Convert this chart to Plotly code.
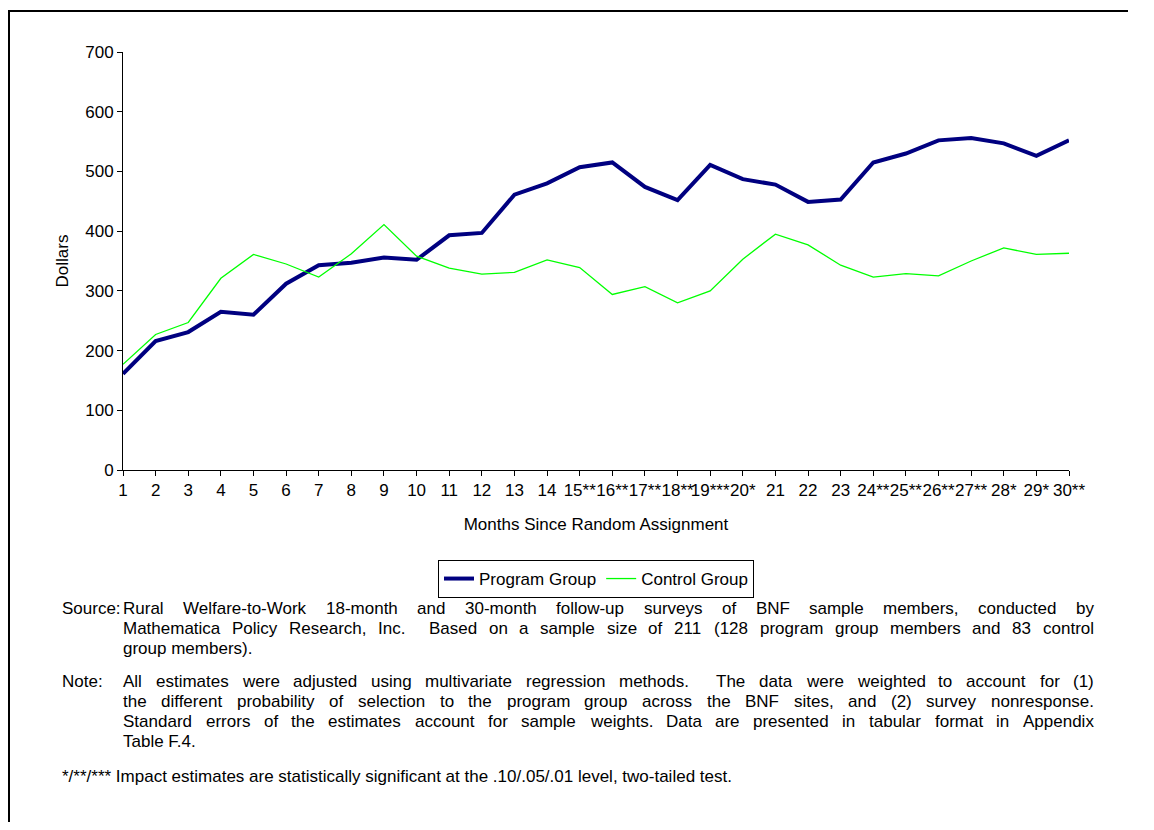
import plotly.graph_objects as go

months = list(range(1, 31))
month_labels = ["1", "2", "3", "4", "5", "6", "7", "8", "9", "10", "11", "12", "13", "14",
                "15**", "16**", "17**", "18**", "19***", "20*", "21", "22", "23", "24**",
                "25**", "26**", "27**", "28*", "29*", "30**"]
program_group = [161, 216, 231, 265, 260, 312, 343, 347, 356, 352, 393, 397, 461, 480, 507,
                 515, 474, 452, 511, 487, 478, 449, 453, 515, 530, 552, 556, 547, 526, 552]
control_group = [177, 227, 247, 321, 361, 345, 323, 362, 411, 358, 338, 328, 331, 352, 339,
                 294, 307, 280, 300, 353, 395, 377, 343, 323, 329, 325, 350, 372, 361, 363]

source_lines = [
    "Rural Welfare-to-Work 18-month and 30-month follow-up surveys of BNF sample members, conducted by",
    "Mathematica Policy Research, Inc.  Based on a sample size of 211 (128 program group members and 83 control",
    "group members).",
]
note_lines = [
    "All estimates were adjusted using multivariate regression methods.  The data were weighted to account for (1)",
    "the different probability of selection to the program group across the BNF sites, and (2) survey nonresponse.",
    "Standard errors of the estimates account for sample weights. Data are presented in tabular format in Appendix",
    "Table F.4.",
]
footnote = "*/**/*** Impact estimates are statistically significant at the .10/.05/.01 level, two-tailed test."

FONT = "Liberation Sans, Arial, sans-serif"
FS = 17
NOTE_FS = 17
# page body has an 8px margin; work in screen coordinates and convert
OFF = 8
W, H = 1120, 814
SL, SR, ST, SB = 123, 1069, 52, 470  # plot area in screen px
L, R, T, B = SL - OFF, (W + OFF) - SR, ST - OFF, (H + OFF) - SB
PW, PH = SR - SL, SB - ST


def px(x):
    return (x - SL) / PW


def py(y):
    return (SB - y) / PH


# Arial / Liberation Sans advance widths (1/1000 em) for text layout of justified lines
_W = {" ": 278, "(": 333, ")": 333, ",": 278, "-": 333, ".": 278, "/": 278, "*": 389, ":": 278,
      "A": 667, "B": 667, "D": 722, "F": 611, "I": 278, "M": 833, "N": 722, "P": 667, "R": 722,
      "S": 667, "T": 611, "W": 944,
      "a": 556, "b": 556, "c": 500, "d": 556, "e": 556, "f": 278, "g": 556, "h": 556, "i": 222,
      "j": 222, "k": 500, "l": 222, "m": 833, "n": 556, "o": 556, "p": 556, "q": 556, "r": 333,
      "s": 500, "t": 278, "u": 556, "v": 500, "w": 722, "x": 500, "y": 500, "z": 500}


def tw(s, fs=NOTE_FS):
    return sum(_W.get(c, 556) for c in s) * fs / 1000.0


annotations = []


def add_text(t, x, y, anchor="left", fs=NOTE_FS):
    annotations.append(dict(text=t, x=px(x), y=py(y), xref="paper", yref="paper",
                            xanchor=anchor, yanchor="middle", showarrow=False,
                            borderpad=0, borderwidth=0,
                            font=dict(family=FONT, size=fs, color="black")))


def add_justified(line, x0, x1, y):
    words = line.split(" ")
    n_spaces = line.count(" ")
    natural = tw(line)
    extra = (x1 - x0 - natural) / n_spaces
    pos = x0
    non_empty = [i for i, w in enumerate(words) if w]
    last = non_empty[-1]
    for i, w in enumerate(words):
        if w:
            if i == last:
                add_text(w, x1, y, anchor="right")
            else:
                add_text(w, pos, y)
        pos += tw(w) + tw(" ") + extra


TXT_L, TXT_R, LBL = 123, 1094, 62
add_text("Source:", LBL, 608)
for i, t in enumerate(source_lines):
    yy = 608 + 20 * i
    if i < len(source_lines) - 1:
        add_justified(t, TXT_L, TXT_R, yy)
    else:
        add_text(t, TXT_L, yy)
add_text("Note:", LBL, 681)
for i, t in enumerate(note_lines):
    yy = 681 + 20 * i
    if i < len(note_lines) - 1:
        add_justified(t, TXT_L, TXT_R, yy)
    else:
        add_text(t, TXT_L, yy)
add_text(footnote, LBL, 776)

fig = go.Figure()
fig.add_trace(go.Scatter(x=months, y=program_group, mode="lines", name="Program Group",
                         line=dict(color="#000080", width=4)))
fig.add_trace(go.Scatter(x=months, y=control_group, mode="lines", name="Control Group",
                         line=dict(color="#00FF00", width=1.3)))

shapes = [
    dict(type="line", xref="paper", yref="paper", x0=px(8), x1=px(W + OFF), y0=py(11), y1=py(11),
         line=dict(color="black", width=2)),
    dict(type="line", xref="paper", yref="paper", x0=px(9), x1=px(9), y0=py(10), y1=py(H + OFF),
         line=dict(color="black", width=2)),
]

fig.update_layout(
    width=W, height=H, autosize=False,
    margin=dict(l=L, r=R, t=T, b=B, pad=0),
    paper_bgcolor="white", plot_bgcolor="white",
    font=dict(family=FONT, size=FS, color="black"),
    showlegend=True,
    legend=dict(orientation="h", x=px(596), xanchor="center", y=py(560), yanchor="top",
                bordercolor="black", borderwidth=1, bgcolor="white",
                font=dict(family=FONT, size=FS, color="black"), itemwidth=30),
    xaxis=dict(range=[1, 30], tickmode="array", tickvals=months, ticktext=month_labels,
               showgrid=False, zeroline=False, showline=True, linecolor="black", linewidth=1,
               ticks="outside", ticklen=5, tickcolor="black", tickangle=0,
               title=dict(text="Months Since Random Assignment", standoff=18,
                          font=dict(family=FONT, size=FS))),
    yaxis=dict(range=[0, 700], tickmode="array", tickvals=[0, 100, 200, 300, 400, 500, 600, 700],
               showgrid=False, zeroline=False, showline=True, linecolor="black", linewidth=1,
               ticks="outside", ticklen=5, tickcolor="black",
               title=dict(text="Dollars", standoff=12, font=dict(family=FONT, size=FS))),
    annotations=annotations,
    shapes=shapes,
)

fig.write_html("out.html")
